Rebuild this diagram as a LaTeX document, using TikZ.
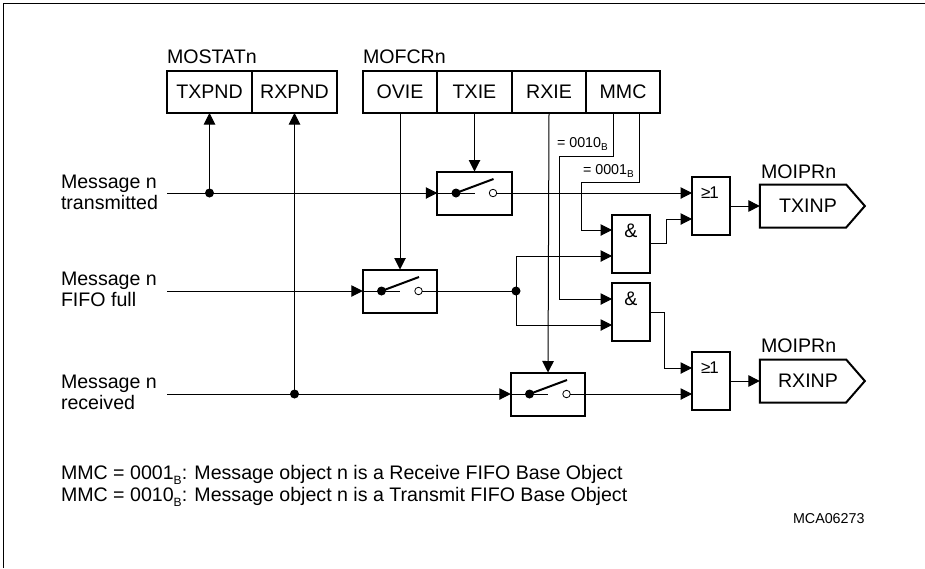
\documentclass[tikz,border=0pt]{standalone}
\usepackage{fontspec}
\setmainfont{Liberation Sans}
\usetikzlibrary{arrows.meta,shapes.symbols,calc}
\newcommand{\fsz}{\fontsize{19.6}{21}\selectfont}
\newcommand{\ssz}{\fontsize{14.3}{16}\selectfont}
\newcommand{\subB}{\raisebox{-5.5pt}{\fontsize{12}{12}\selectfont B}}
\newcommand{\subBs}{\raisebox{-3.5pt}{\fontsize{10}{10}\selectfont B}}
\tikzset{
  x=1pt,y=-1pt,
  every node/.style={font=\fsz,text=black,inner sep=0pt,outer sep=0pt},
  thick box/.style={draw,line width=2pt,rectangle},
  regbox/.style={thick box,minimum height=42pt},
  swbox/.style={thick box,minimum width=74.5pt,minimum height=43pt},
  gatebox/.style={thick box,minimum width=38pt,minimum height=58pt},
  outp/.style={draw,line width=2pt,shape=signal,signal to=east,signal from=nowhere,signal pointer angle=98,minimum width=105pt,minimum height=43pt},
  wire/.style={line width=1pt},
  arr/.style={wire,-{Triangle[length=11.5pt,width=11.5pt]}},
  dotn/.style={circle,fill=black,minimum size=9pt},
  opendot/.style={circle,draw,fill=white,line width=0.8pt,minimum size=7.5pt},
  lbl/.style={anchor=base west,align=left},
  small/.style={font=\ssz,anchor=base west},
  gatemark/.style={font=\fontsize{17}{18}\selectfont},
}
\newcommand{\swinner}[1]{%
  \node[dotn] (#1p) at ($(#1.center)+(-18.5,0)$) {};
  \node[opendot] (#1c) at ($(#1.center)+(18.5,0)$) {};
  \draw[line width=2pt] (#1p.center) -- ($(#1.center)+(19,-14)$);
}
\begin{document}
\begin{tikzpicture}
\useasboundingbox (0,0) rectangle (925,568);
\draw[line width=1pt] (3.5,568) -- (3.5,3.5) -- (925,3.5);

% registers
\node[regbox,minimum width=85pt] (txpnd) at (209.5,92) {TXPND};
\node[regbox,minimum width=85pt] (rxpnd) at (294.5,92) {RXPND};
\node[regbox,minimum width=74pt] (ovie) at (400,92) {OVIE};
\node[regbox,minimum width=74.5pt] (txie) at (474.5,92) {TXIE};
\node[regbox,minimum width=74.5pt] (rxie) at (549,92) {RXIE};
\node[regbox,minimum width=74pt] (mmc) at (623,92) {MMC};
\node[lbl] (mostat) at (167,63.5) {MOSTATn};
\node[lbl] (mofcr) at (363,63.5) {MOFCRn};

% left labels
\node[lbl] (lt1) at (61,188) {Message n};
\node[lbl] (lt2) at (61,209) {transmitted};
\node[lbl] (lf1) at (61,285.5) {Message n};
\node[lbl] (lf2) at (61,306.5) {FIFO full};
\node[lbl] (lr1) at (61,388.5) {Message n};
\node[lbl] (lr2) at (61,409.5) {received};
\coordinate (st) at (167,193);
\coordinate (sf) at (167,291);
\coordinate (sr) at (167,394);

% switches
\node[swbox] (sw1) at (474.5,193) {};
\node[swbox] (sw2) at (400,291) {};
\node[swbox] (sw3) at (548,394) {};

% gates
\node[gatebox] (or1) at (711,206) {};
\node[gatebox] (and1) at (631,243.5) {};
\node[gatebox] (and2) at (631,312) {};
\node[gatebox] (or2) at (711,381) {};
\node[gatemark] (o1t) at ($(or1.north)+(-1,15.5)$) {≥\kern-1pt 1};
\node[gatemark] (o2t) at ($(or2.north)+(-1,15.5)$) {≥\kern-1pt 1};
\node (a1t) at ($(and1.north)+(0,16)$) {\&};
\node (a2t) at ($(and2.north)+(0,16)$) {\&};

% outputs
\node[outp] (txinp) at (803,206) {\kern10pt TXINP};
\node[outp] (rxinp) at (803,381) {\kern10pt RXINP};
\node[lbl] (m1) at (761,178) {MOIPRn};
\node[lbl] (m2) at (761,352) {MOIPRn};

% junctions
\node[dotn] (d1) at (txpnd.south |- st) {};
\node[dotn] (d2) at (rxpnd.south |- sr) {};
\node[dotn] (d3) at (516,291) {};

% wires
\draw[arr] (st) -- (sw1.west);
\draw[arr] (sf) -- (sw2.west);
\draw[arr] (sr) -- (sw3.west);
\draw[wire] (sw1.west) -- (sw1.center);
\draw[wire] (sw2.west) -- (sw2.center);
\draw[wire] (sw3.west) -- (sw3.center);
\swinner{sw1}
\swinner{sw2}
\swinner{sw3}
\draw[arr] (d1.center) -- (txpnd.south);
\draw[arr] (d2.center) -- (rxpnd.south);
\draw[arr] (ovie.south) -- (sw2.north);
\draw[arr] (txie.south) -- (sw1.north);
\draw[arr] (rxie.south) -- (sw3.north);
\draw[arr] (sw1c.east) -- (sw1c.east -| or1.west);
\draw[arr] (sw3c.east) -- (sw3c.east -| or2.west);
\draw[wire] (sw2c.east) -- (d3.center);
\coordinate (a1i) at (and1.west |- 0,230);
\coordinate (a1j) at (and1.west |- 0,256);
\coordinate (a2i) at (and2.west |- 0,299);
\coordinate (a2j) at (and2.west |- 0,325);
\draw[arr] (d3.center) |- (a1j);
\draw[arr] (d3.center) |- (a2j);
\coordinate (mm1) at (613,113);
\coordinate (mm2) at (639,113);
\draw[arr] (mm1) -- (613,156) -- (559,156) |- (a2i);
\draw[arr] (mm2) -- (639,182) -- (581,182) |- (a1i);
\coordinate (o1i) at (or1.west |- 0,219);
\coordinate (o2i) at (or2.west |- 0,368);
\draw[arr] (and1.east) -- (666,243.5) |- (o1i);
\draw[arr] (and2.east) -- (664,312) |- (o2i);
\draw[arr] (or1.east) -- (txinp.west);
\draw[arr] (or2.east) -- (rxinp.west);

% small labels
\node[small] (k1) at (557,147) {= 0010\subBs};
\node[small] (k2) at (583,174) {= 0001\subBs};
\node[lbl] (n1) at (61,479) {MMC = 0001\subB: Message object n is a Receive FIFO Base Object};
\node[lbl] (n2) at (61,501) {MMC = 0010\subB: Message object n is a Transmit FIFO Base Object};
\node[small] (id) at (793,523) {MCA06273};
\end{tikzpicture}
\end{document}
